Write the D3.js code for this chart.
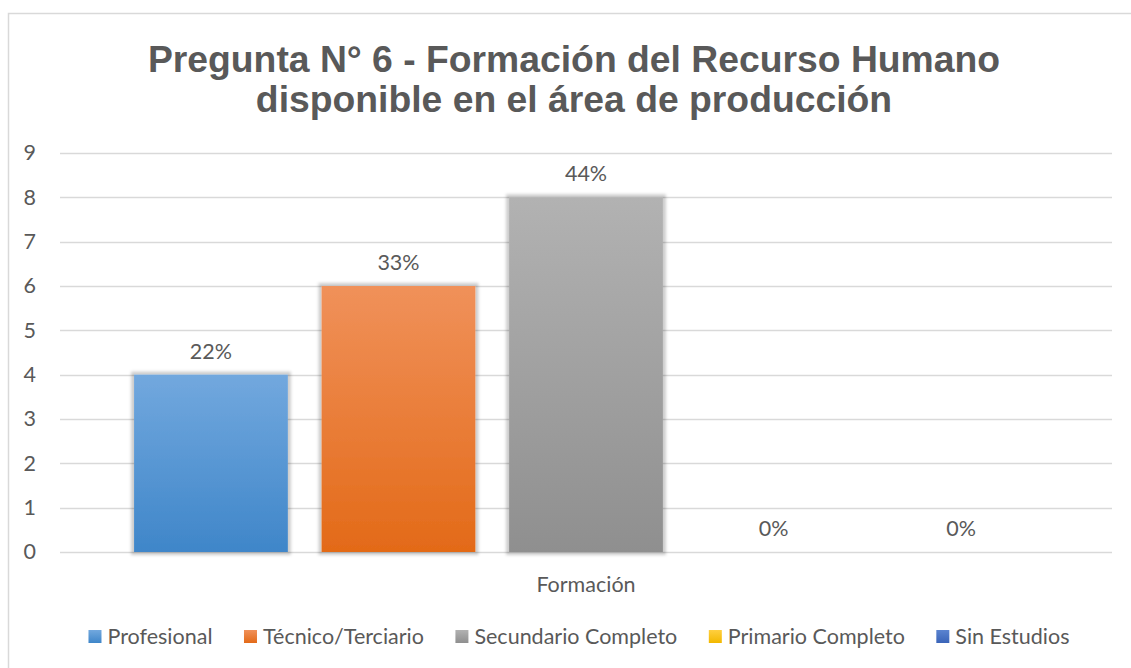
<!DOCTYPE html>
<html><head><meta charset="utf-8">
<script src="https://cdn.jsdelivr.net/npm/d3@7"></script>
<style>body{margin:0;background:#fff}svg{display:block}</style>
</head><body>
<svg id="c" width="1131" height="668"></svg>
<script>
const titleLines = ["Pregunta N° 6 - Formación del Recurso Humano", "disponible en el área de producción"];
const category = "Formación";
const series = ["Profesional", "Técnico/Terciario", "Secundario Completo", "Primario Completo", "Sin Estudios"];
const values = [4, 6, 8, 0, 0];
const labels = ["22%", "33%", "44%", "0%", "0%"];
const yTicks = [0, 1, 2, 3, 4, 5, 6, 7, 8, 9];
const topColors = ["#72a8de", "#f0915a", "#b2b2b2", "#ffcf40", "#5b84d0"];
const bottomColors = ["#3f86c9", "#e36a18", "#8f8f8f", "#f2b800", "#3a64b8"];

const svg = d3.select("#c");
const font = "Lato, 'Open Sans', sans-serif";
const fs = 21.5;
const textCol = "#595959";
const M = {l: 60, r: 1112, t: 153, b: 552};

const defs = svg.append("defs");
series.forEach((s, i) => {
  const g = defs.append("linearGradient").attr("id", "g" + i).attr("x1", 0).attr("y1", 0).attr("x2", 0).attr("y2", 1);
  g.append("stop").attr("offset", "0%").attr("stop-color", topColors[i]);
  g.append("stop").attr("offset", "100%").attr("stop-color", bottomColors[i]);
});
const f = defs.append("filter").attr("id", "sh").attr("x", "-10%").attr("y", "-10%").attr("width", "120%").attr("height", "120%");
f.append("feMorphology").attr("in", "SourceAlpha").attr("operator", "dilate").attr("radius", 3).attr("result", "d");
f.append("feGaussianBlur").attr("in", "d").attr("stdDeviation", 1.5).attr("result", "b");
f.append("feFlood").attr("flood-color", "#000").attr("flood-opacity", 0.2);
f.append("feComposite").attr("in2", "b").attr("operator", "in").attr("result", "s");
const mg = f.append("feMerge");
mg.append("feMergeNode").attr("in", "s");
mg.append("feMergeNode").attr("in", "SourceGraphic");

// chart border
svg.append("rect").attr("x", 8.5).attr("y", 13.5).attr("width", 1140).attr("height", 700)
  .attr("fill", "none").attr("stroke", "#d9d9d9").attr("stroke-width", 1.5);

// title
svg.append("text").attr("x", 574).attr("y", 72).attr("text-anchor", "middle")
  .attr("font-family", "'Liberation Sans', Arial, sans-serif").attr("font-weight", "bold")
  .attr("font-size", 37.3).attr("fill", textCol)
  .selectAll("tspan").data(titleLines).join("tspan")
  .attr("x", 574).attr("dy", (d, i) => i ? 39.5 : 0).text(d => d);

const y = d3.scaleLinear().domain([0, 9]).range([M.b, M.t]);
const x = d3.scaleBand().domain(series).range([M.l, M.r]).paddingInner(0.18).paddingOuter(0.395);

// gridlines
svg.append("g").selectAll("line").data(yTicks).join("line")
  .attr("x1", M.l).attr("x2", M.r).attr("y1", d => Math.round(y(d)) + 0.5).attr("y2", d => Math.round(y(d)) + 0.5)
  .attr("stroke", "#d9d9d9").attr("stroke-width", 1.3);

// y axis labels
const ya = svg.append("g").attr("transform", `translate(${M.l - 24},0)`)
  .call(d3.axisLeft(y).tickValues(yTicks).tickSize(0).tickPadding(0));
ya.select(".domain").remove();
ya.selectAll("text").attr("font-family", font).attr("font-size", fs).attr("fill", textCol);

// bars
svg.append("g").selectAll("rect").data(series).join("rect")
  .attr("x", d => x(d)).attr("width", x.bandwidth())
  .attr("y", (d, i) => y(values[i])).attr("height", (d, i) => y(0) - y(values[i]))
  .attr("fill", (d, i) => `url(#g${i})`).attr("filter", "url(#sh)");

// labels
svg.append("g").selectAll("text").data(series).join("text")
  .attr("x", d => x(d) + x.bandwidth() / 2).attr("y", (d, i) => y(values[i]) - 16)
  .attr("text-anchor", "middle").attr("font-family", font).attr("font-size", fs).attr("fill", textCol)
  .text((d, i) => labels[i]);

// category label
svg.append("text").attr("x", (M.l + M.r) / 2).attr("y", 592).attr("text-anchor", "middle")
  .attr("font-family", font).attr("font-size", fs).attr("fill", textCol).text(category);

// legend
const gap = 31.5;
const lg = svg.append("g");
const items = lg.selectAll("g").data(series).join("g");
items.append("rect").attr("width", 13).attr("height", 13).attr("y", -14)
  .attr("fill", (d, i) => `url(#g${i})`);
items.append("text").attr("x", 19).attr("y", 0).attr("font-family", font).attr("font-size", fs)
  .attr("fill", textCol).text(d => d);
let cx = 0; const pos = [];
items.each(function () {
  pos.push(cx);
  const w = this.querySelector("text").getComputedTextLength();
  cx += 19 + w + gap;
});
const total = cx - gap;
const start = 579 - total / 2;
items.attr("transform", (d, i) => `translate(${start + pos[i]},644)`);
</script>
</body></html>
